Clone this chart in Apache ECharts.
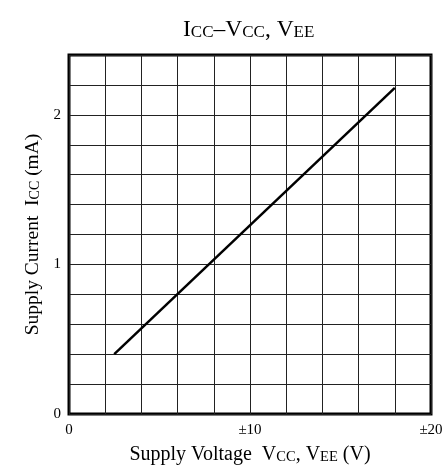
<!DOCTYPE html>
<html>
<head>
<meta charset="utf-8">
<script src="https://cdn.jsdelivr.net/npm/echarts@6/dist/echarts.min.js"></script>
<style>
html,body{margin:0;padding:0;background:#fff;}
#chart{width:446px;height:470px;}
</style>
</head>
<body>
<div id="chart"></div>
<script>
// Data
const supplyVoltage = [2.5, 18];
const supplyCurrent = [0.40, 2.18];
const xTickLabels = {0: '0', 10: '±10', 20: '±20'};
const yTickLabels = {0: '0', 1: '1', 2: '2'};

const FONT = '"Liberation Serif", "DejaVu Serif", serif';
const chart = echarts.init(document.getElementById('chart'));

function richSet(big, small) {
  return {
    b: {fontFamily: FONT, fontSize: big, lineHeight: big, fontWeight: 'normal', color: '#000', verticalAlign: 'bottom'},
    s: {fontFamily: FONT, fontSize: small, lineHeight: big, fontWeight: 'normal', color: '#000', verticalAlign: 'bottom'}
  };
}

function lbl(map) {
  return function (v) {
    const r = Math.round(v);
    if (Math.abs(v - r) < 1e-6 && map[r] !== undefined) return map[r];
    return '';
  };
}

chart.setOption({
  animation: false,
  title: {
    text: '{b|I}{s|CC}{b|–V}{s|CC}{b|, V}{s|EE}',
    left: 178,
    top: 13,
    textStyle: {fontWeight: 'normal', rich: richSet(23.5, 17)}
  },
  grid: {
    left: 69, right: 15, top: 55, bottom: 54,
    show: true, borderColor: '#000', borderWidth: 3, backgroundColor: 'transparent'
  },
  xAxis: {
    type: 'value', min: 0, max: 20, interval: 2,
    axisLine: {show: false}, axisTick: {show: false},
    splitLine: {show: true, lineStyle: {color: '#222', width: 1}},
    axisLabel: {formatter: lbl(xTickLabels), fontFamily: FONT, fontSize: 15, color: '#000', margin: 9, showMinLabel: true, showMaxLabel: true},
    name: '{b|Supply Voltage  V}{s|CC}{b|, V}{s|EE}{b| (V)}',
    nameLocation: 'middle', nameGap: 31,
    nameTextStyle: {rich: richSet(20, 14.5)}
  },
  yAxis: {
    type: 'value', min: 0, max: 2.4, interval: 0.2,
    axisLine: {show: false}, axisTick: {show: false},
    splitLine: {show: true, lineStyle: {color: '#222', width: 1}},
    axisLabel: {formatter: lbl(yTickLabels), fontFamily: FONT, fontSize: 15, color: '#000', margin: 8},
    name: '{b|Supply Current  I}{s|CC}{b| (mA)}',
    nameLocation: 'middle', nameGap: 24,
    nameTextStyle: {rich: richSet(19.5, 14)}
  },
  series: [{
    type: 'line',
    data: supplyVoltage.map((x, i) => [x, supplyCurrent[i]]),
    showSymbol: false,
    lineStyle: {color: '#000', width: 2.5},
    z: 5
  }]
});
</script>
</body>
</html>
